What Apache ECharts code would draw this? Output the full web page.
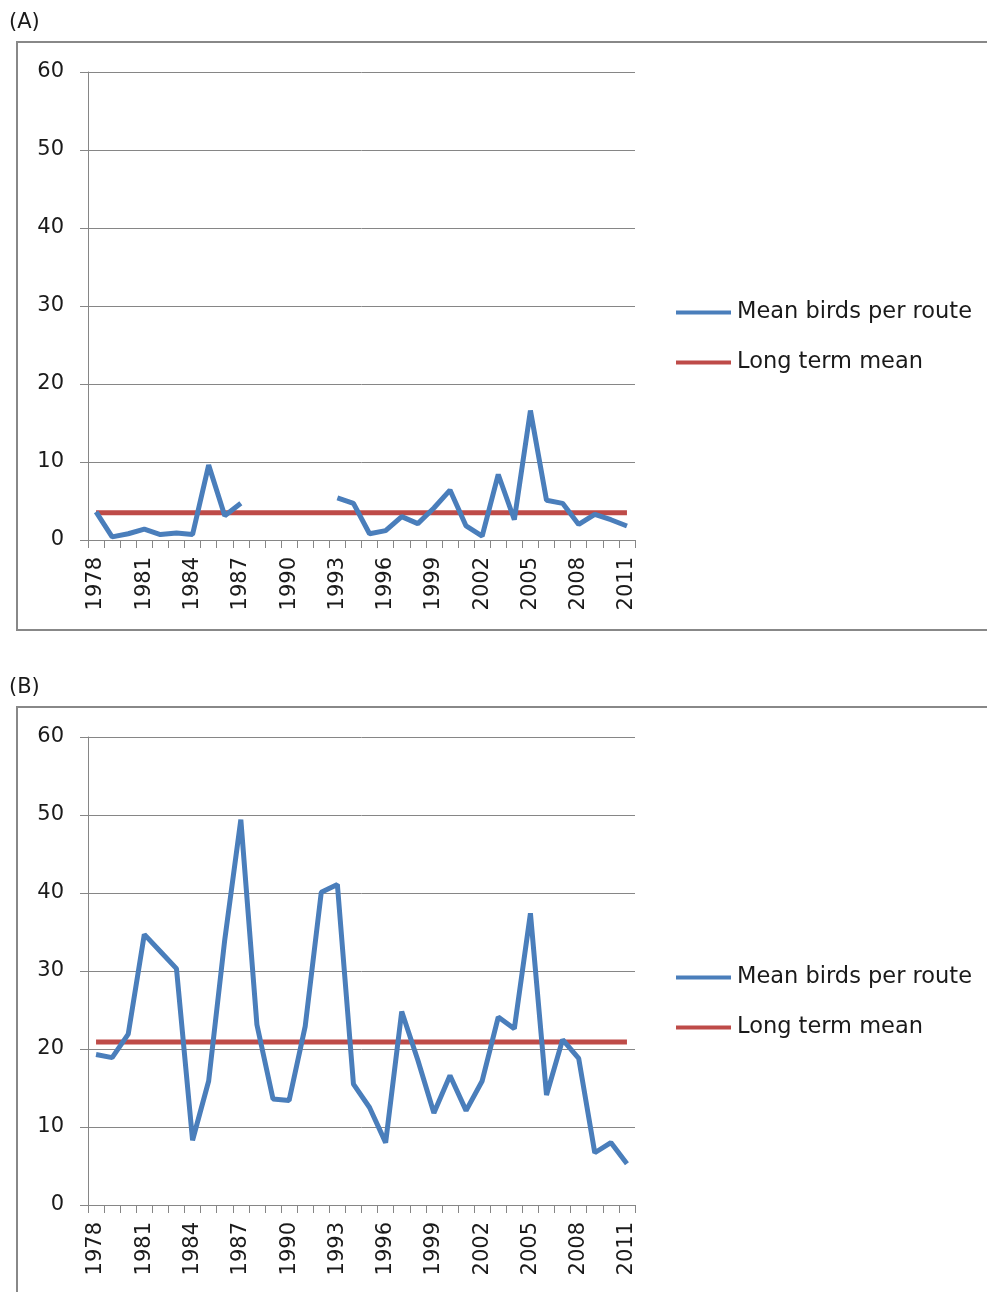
<!DOCTYPE html>
<html>
<head>
<meta charset="utf-8">
<script src="https://cdn.jsdelivr.net/npm/echarts@6/dist/echarts.min.js"></script>
<style>
html,body{margin:0;padding:0;background:#fff;}
#chart{width:987px;height:1292px;}
</style>
</head>
<body>
<div id="chart"></div>
<script>
// ---- data ----
var years = ['1978','1979','1980','1981','1982','1983','1984','1985','1986','1987','1988','1989','1990','1991','1992','1993','1994','1995','1996','1997','1998','1999','2000','2001','2002','2003','2004','2005','2006','2007','2008','2009','2010','2011'];
var meanBirdsA = [3.6,0.4,0.8,1.4,0.7,0.9,0.7,9.6,3.1,4.7,null,null,null,null,null,5.4,4.7,0.8,1.2,3.0,2.1,4.1,6.4,1.8,0.5,8.4,2.6,16.6,5.1,4.7,2.0,3.3,2.6,1.8];
var longTermMeanA = 3.5;
var meanBirdsB = [19.3,18.9,21.9,34.7,32.5,30.3,8.3,15.9,34.0,49.4,23.1,13.6,13.4,22.9,40.1,41.1,15.5,12.5,8.0,24.8,18.6,11.8,16.6,12.1,15.9,24.1,22.6,37.4,14.1,21.2,18.8,6.7,8.0,5.3];
var longTermMeanB = 20.9;
var yTicks = {min: 0, max: 60, interval: 10};
var panelLabels = ['(A)', '(B)'];
var seriesNames = ['Mean birds per route', 'Long term mean'];

var FONT = 'DejaVu Sans';
var BLUE = '#4a7ebb', RED = '#be4b48', GRID = '#868686', TXT = '#1a1a1a';

function constSeries(v){ return years.map(function(){ return v; }); }

var gridTops = [72, 737];
var grids = [], xAxes = [], yAxes = [], series = [], legends = [];
[ [meanBirdsA, longTermMeanA], [meanBirdsB, longTermMeanB] ].forEach(function(p, i){
  grids.push({left: 88, top: gridTops[i], width: 547, height: 468, containLabel: false});
  xAxes.push({
    type: 'category', gridIndex: i, data: years, boundaryGap: true,
    axisLine: {show: true, lineStyle: {color: GRID, width: 1}},
    axisTick: {show: true, interval: 0, length: 8, lineStyle: {color: GRID}},
    axisLabel: {interval: 2, rotate: 90, margin: 17, fontFamily: FONT, fontSize: 21, color: TXT},
    splitLine: {show: false}
  });
  yAxes.push({
    type: 'value', gridIndex: i, min: yTicks.min, max: yTicks.max, interval: yTicks.interval,
    axisLine: {show: true, lineStyle: {color: GRID, width: 1}},
    axisTick: {show: true, length: 8, lineStyle: {color: GRID}},
    axisLabel: {margin: 24, fontFamily: FONT, fontSize: 21, color: TXT},
    splitLine: {show: true, lineStyle: {color: GRID, width: 1}}
  });
  series.push({
    name: seriesNames[0], type: 'line', xAxisIndex: i, yAxisIndex: i, data: p[0],
    symbol: 'none', connectNulls: false, lineStyle: {color: BLUE, width: 5}, itemStyle: {color: BLUE}, z: 3, silent: true
  });
  series.push({
    name: seriesNames[1], type: 'line', xAxisIndex: i, yAxisIndex: i, data: constSeries(p[1]),
    symbol: 'none', lineStyle: {color: RED, width: 5}, itemStyle: {color: RED}, z: 2, silent: true
  });
  legends.push({
    orient: 'vertical', left: 676, top: gridTops[i] + 229, padding: 0, itemWidth: 55, itemHeight: 14, itemGap: 27,
    icon: 'path://M0,0 L55,0 L55,4 L0,4 Z',
    data: seriesNames,
    selectedMode: false,
    textStyle: {fontFamily: FONT, fontSize: 22.5, color: TXT, padding: [0,0,0,1]}
  });
});

var chart = echarts.init(document.getElementById('chart'), null, {renderer: 'canvas'});
chart.setOption({
  animation: false,
  backgroundColor: '#fff',
  grid: grids, xAxis: xAxes, yAxis: yAxes, series: series, legend: legends,
  graphic: [
    {type: 'rect', shape: {x: 17, y: 42, width: 980, height: 588}, style: {fill: 'none', stroke: '#888', lineWidth: 2}, z: -1},
    {type: 'rect', shape: {x: 17, y: 707, width: 980, height: 600}, style: {fill: 'none', stroke: '#888', lineWidth: 2}, z: -1},
    {type: 'text', left: 9, top: 12, style: {text: panelLabels[0], font: '21px "' + FONT + '"', fill: TXT}},
    {type: 'text', left: 9, top: 677, style: {text: panelLabels[1], font: '21px "' + FONT + '"', fill: TXT}}
  ]
});
</script>
</body>
</html>
